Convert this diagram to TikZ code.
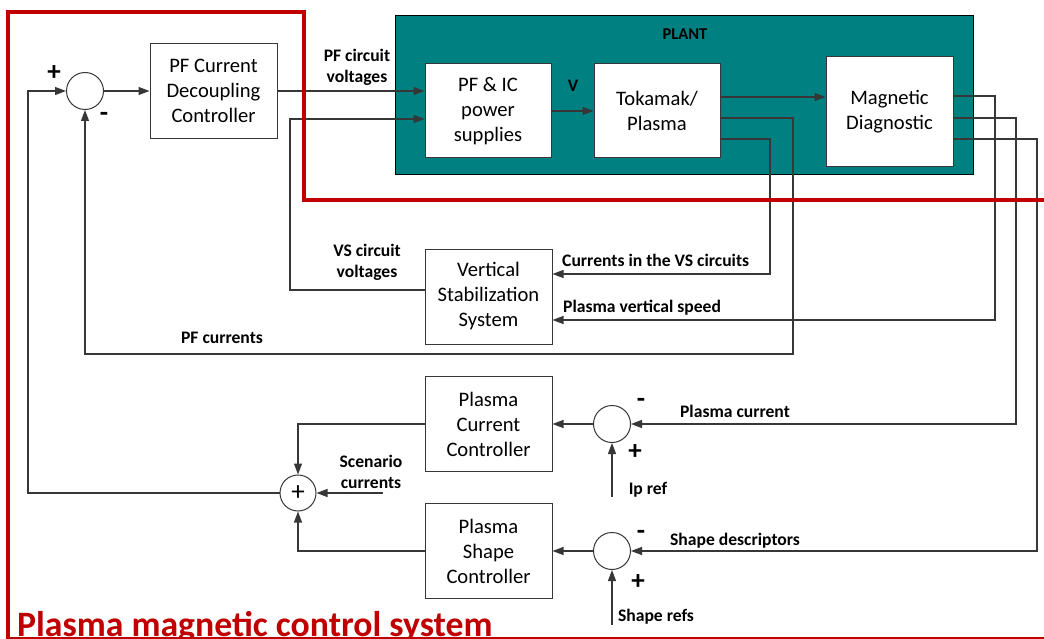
\documentclass[tikz,border=0pt]{standalone}
\usepackage{fontspec}
\setmainfont{Carlito}
\usetikzlibrary{arrows.meta,calc}
\definecolor{redc}{RGB}{192,0,0}
\definecolor{tealc}{RGB}{0,128,128}
\definecolor{linec}{RGB}{55,55,55}
\begin{document}
\begin{tikzpicture}[x=1pt,y=-1pt,
 box/.style={draw=linec,line width=1pt,fill=white,minimum width=127pt,minimum height=95pt,align=center,font=\fontsize{20.6}{25}\selectfont,inner sep=0pt},
 sumc/.style={circle,draw=linec,line width=1pt,fill=white,minimum size=37pt,inner sep=0pt},
 conn/.style={draw=linec,line width=1.1pt},
 arr/.style={conn,-{Triangle[length=11pt,width=8pt]}},
 lab/.style={font=\fontsize{17.6}{21}\selectfont\bfseries,align=center,inner sep=0pt},
 sgn/.style={font=\fontsize{27}{27}\selectfont\bfseries,inner sep=0pt}
]
\useasboundingbox (0,0) rectangle (1044,639);
\fill[white] (0,0) rectangle (1044,639);

% plant
\node[draw=black,fill=tealc,line width=1pt,minimum width=578pt,minimum height=159pt,inner sep=0pt] (plant) at (684,95.5) {};
\node[lab,font=\fontsize{16.5}{21}\selectfont\bfseries] (plantlab) at (685,34) {PLANT};

% blocks
\node[sumc] (s1) at (85,91) {};
\node[box] (pfdc) at (213.5,91) {PF Current\\Decoupling\\Controller};
\node[box,minimum width=126pt,minimum height=94pt] (psu) at (488,111) {PF \& IC\\power\\supplies};
\node[box,minimum width=126pt,minimum height=94pt] (tok) at (657,111) {Tokamak/\\Plasma};
\node[box,minimum height=110pt] (mag) at (889.5,112) {Magnetic\\Diagnostic};
\node[box] (vs) at (488.5,296.5) {Vertical\\Stabilization\\System};
\node[box] (pcc) at (488.5,424) {Plasma\\Current\\Controller};
\node[box] (psc) at (488.5,551) {Plasma\\Shape\\Controller};
\node[sumc,minimum size=36pt,font=\fontsize{27}{27}\selectfont] (s2) at (298,493) {+};
\node[sumc] (s3) at (612,424) {};
\node[sumc] (s4) at (612,551) {};

\coordinate (ipref) at (612,497);
\coordinate (shref) at (612,625);
\coordinate (scen) at (383,493);

% connectors
\draw[arr] (s1.east) -- (pfdc.west);
\draw[arr] (pfdc.east) -- (pfdc.east -| psu.west);
\draw[arr] ([yshift=6.5pt]vs.west) -| (290,119) -- ([yshift=-8pt]psu.west);
\draw[arr] (psu.east) -- (tok.west);
\draw[arr] ([yshift=14pt]tok.east) -- ([yshift=14pt]tok.east -| mag.west);
\draw[arr] ([yshift=-7pt]tok.east) -| (793,354) -| (s1.south);
\draw[arr] ([yshift=-28pt]tok.east) -| (770,274) -- ([yshift=22.5pt]vs.east);
\draw[arr] ([yshift=16pt]mag.east) -| (995,320) -- ([yshift=-23.5pt]vs.east);
\draw[arr] ([yshift=-6pt]mag.east) -| (1016,424) -- (s3.east);
\draw[arr] ([yshift=-27pt]mag.east) -| (1037,551) -- (s4.east);
\draw[arr] (s3.west) -- (pcc.east);
\draw[arr] (s4.west) -- (psc.east);
\draw[arr] (ipref) -- (s3.south);
\draw[arr] (shref) -- (s4.south);
\draw[arr] (pcc.west) -| (s2.north);
\draw[arr] (psc.west) -| (s2.south);
\draw[arr] (scen) -- (s2.east);
\draw[arr] (s2.west) -| (28,91) -- (s1.west);

% labels
\node[lab] (l1) at (357,67.5) {PF circuit\\voltages};
\node[lab] (l2) at (573,86) {V};
\node[lab] (l3) at (367,262.5) {VS circuit\\voltages};
\node[lab,anchor=west] (l4) at (562,260) {Currents in the VS circuits};
\node[lab,anchor=west] (l5) at (563,308) {Plasma vertical speed};
\node[lab] (l6) at (222,338) {PF currents};
\node[lab] (l7) at (371,472) {Scenario\\currents};
\node[lab] (l8) at (735,411) {Plasma current};
\node[lab] (l9) at (735,541) {Shape descriptors};
\node[lab] (l10) at (648,490) {Ip ref};
\node[lab] (l11) at (656,617) {Shape refs};

% signs
\node[sgn] (p1) at (54,73) {+};
\node[sgn] (m1) at (104,117) {-};
\node[sgn] (m3) at (641,403) {-};
\node[sgn] (p3) at (635,452) {+};
\node[sgn] (m4) at (641,535) {-};
\node[sgn] (p4) at (638,582) {+};

% red system boundary
\draw[redc,line width=4pt,line join=miter] (8,641) -- (8,12) -- (304,12) -- (304,200) -- (1046,200);
\node[anchor=base west,font=\fontsize{35.7}{36}\selectfont\bfseries,text=redc,inner sep=0pt] (title) at (17,636) {Plasma magnetic control system};
\draw[redc,line width=1.5pt] (8,638) -- (1044,638);
\end{tikzpicture}
\end{document}
